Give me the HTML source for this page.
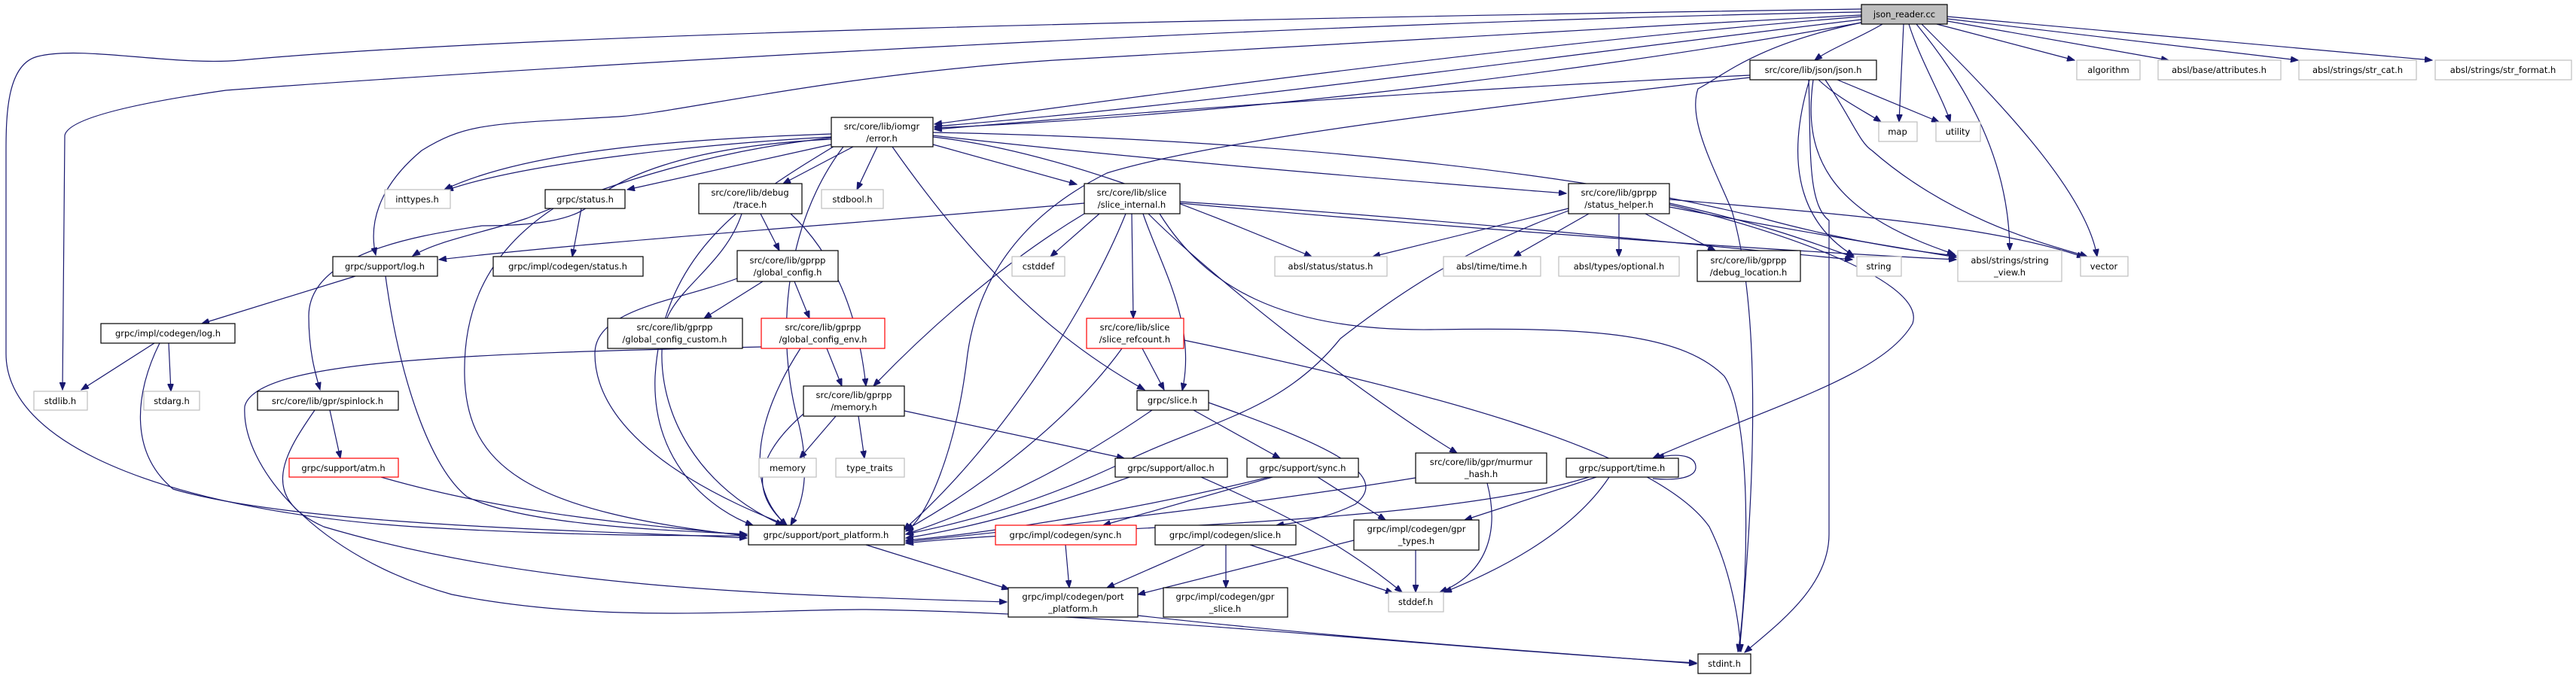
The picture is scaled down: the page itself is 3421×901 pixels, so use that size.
<!DOCTYPE html>
<html><head><meta charset="utf-8"><style>
html,body{margin:0;padding:0;background:#fff;}
svg{display:block;}
text{font-family:"DejaVu Sans","Liberation Sans",sans-serif;font-size:11.5px;fill:#000;text-anchor:middle;}
.e{fill:none;stroke:#191970;stroke-width:1.2;marker-end:url(#a);}
.n{fill:#fff;stroke:#000;stroke-width:1.2;}
.g{fill:#fff;stroke:#bfbfbf;stroke-width:1.2;}
.r{fill:#fff;stroke:#ff0000;stroke-width:1.2;}
</style></head><body>
<svg width="3421" height="901" viewBox="0 0 3421 901" xmlns="http://www.w3.org/2000/svg">
<defs><marker id="a" markerUnits="userSpaceOnUse" markerWidth="11" markerHeight="8" refX="10" refY="4" orient="auto"><path d="M0,0 L10,4 L0,8 z" fill="#191970" stroke="#191970"/></marker></defs>

<!-- edges from json_reader.cc -->
<path class="e" d="M2500,32 C2470,50 2430,65 2410,80"/>
<path class="e" d="M2528,32 L2522,162"/>
<path class="e" d="M2535,32 C2550,80 2580,130 2590,162"/>
<path class="e" d="M2545,32 C2600,100 2668,200 2669,333"/>
<path class="e" d="M2552,32 C2640,120 2770,250 2785,341"/>
<path class="e" d="M2572,32 L2755,80"/>
<path class="e" d="M2586,28 L2880,80"/>
<path class="e" d="M2586,25 L3052,80"/>
<path class="e" d="M2586,22 L3230,80"/>
<path class="e" d="M2472,22 C2000,60 1500,130 1241,165"/>
<path class="e" d="M2472,26 C2100,70 1600,140 1241,168"/>
<path class="e" d="M2472,30 C2200,80 1700,150 1241,170"/>
<path class="e" d="M2472,12 C1600,25 700,45 320,80 C230,88 110,60 50,75 C10,85 8,150 8,200 L8,470 C8,600 250,680 550,700 C750,712 900,712 992,712"/>
<path class="e" d="M2472,16 C1700,30 700,90 300,120 C160,140 90,160 86,180 L83,518"/>
<path class="e" d="M2472,20 C2100,40 1700,60 1400,80 C1100,100 900,150 821,155 C650,165 620,163 560,200 C500,250 490,300 499,339"/>
<path class="e" d="M2472,30 C2330,60 2290,100 2255,118 C2240,160 2280,230 2300,280 C2335,400 2335,600 2310,866"/>

<!-- json.h -->
<path class="e" d="M2415,106 C2440,130 2480,150 2498,162"/>
<path class="e" d="M2440,106 L2575,162"/>
<path class="e" d="M2403,106 C2375,200 2380,290 2462,340"/>
<path class="e" d="M2408,106 C2395,200 2420,280 2596,338"/>
<path class="e" d="M2424,106 C2460,160 2470,190 2486,200 C2600,300 2740,330 2772,341"/>
<path class="e" d="M2402,106 C2405,200 2400,270 2429,293 L2429,710 C2429,780 2360,830 2317,867"/>
<path class="e" d="M2324,100 C1900,120 1500,150 1241,172"/>
<path class="e" d="M2324,103 C1900,150 1600,190 1470,230 C1330,300 1295,400 1285,470 C1270,600 1230,690 1203,706"/>

<!-- error.h -->
<path class="e" d="M1104,178 C900,185 700,200 590,252"/>
<path class="e" d="M1104,182 C950,190 700,215 592,253"/>
<path class="e" d="M1104,183 C950,200 820,240 700,290 C640,310 580,320 548,340"/>
<path class="e" d="M1104,185 C900,195 820,240 790,265 C770,295 700,300 640,300 C580,310 410,330 410,420 C410,470 420,500 425,518"/>
<path class="e" d="M1104,192 L833,252"/>
<path class="e" d="M1133,195 L1040,244"/>
<path class="e" d="M1165,195 L1138,252"/>
<path class="e" d="M1239,192 L1430,245"/>
<path class="e" d="M1239,180 C1500,210 1800,235 2080,257"/>
<path class="e" d="M1239,182 C1400,200 1570,270 1742,341"/>
<path class="e" d="M1239,176 C1700,185 2100,230 2340,290 C2450,320 2550,335 2598,340"/>
<path class="e" d="M1185,195 C1280,330 1380,440 1520,518"/>
<path class="e" d="M1110,193 C1000,260 880,330 870,500 C865,620 950,680 1000,698"/>
<path class="e" d="M1120,195 C1040,300 1030,450 1060,560 C1080,640 1060,680 1050,698"/>

<!-- slice_internal.h -->
<path class="e" d="M1440,270 C1100,300 800,320 583,345"/>
<path class="e" d="M1460,284 L1395,341"/>
<path class="e" d="M1567,268 C1900,290 2200,320 2460,345"/>
<path class="e" d="M1567,270 C1900,300 2300,330 2598,345"/>
<path class="e" d="M1503,284 L1505,423"/>
<path class="e" d="M1518,284 C1540,350 1590,430 1570,519"/>
<path class="e" d="M1440,284 C1330,350 1230,440 1160,513"/>
<path class="e" d="M1495,284 C1440,420 1320,600 1200,704"/>
<path class="e" d="M1525,284 C1600,360 1800,520 1935,602"/>
<path class="e" d="M1540,284 C1600,380 1700,440 1900,438 C2100,435 2230,440 2290,500 C2330,560 2320,800 2308,866"/>

<!-- status_helper.h -->
<path class="e" d="M2083,277 L1823,341"/>
<path class="e" d="M2110,284 L2010,341"/>
<path class="e" d="M2150,284 L2150,341"/>
<path class="e" d="M2185,284 L2278,333"/>
<path class="e" d="M2217,270 C2350,300 2400,320 2462,342"/>
<path class="e" d="M2217,275 C2400,310 2500,325 2598,342"/>
<path class="e" d="M2217,265 C2450,285 2650,300 2768,342"/>
<path class="e" d="M2083,280 C1950,330 1870,380 1780,450 C1700,550 1600,560 1480,620 C1350,680 1250,700 1203,710"/>
<path class="e" d="M2217,272 C2340,300 2560,370 2540,430 C2500,500 2350,540 2195,609"/>

<!-- trace.h / global_config -->
<path class="e" d="M1010,284 L1035,333"/>
<path class="e" d="M985,284 C960,360 880,390 880,450 C870,550 930,650 1040,698"/>
<path class="e" d="M1050,284 C1110,340 1140,420 1150,513"/>
<path class="e" d="M1013,374 L935,423"/>
<path class="e" d="M1055,374 L1075,423"/>
<path class="e" d="M979,370 C900,400 790,410 790,470 C790,600 1000,680 1045,698"/>
<path class="e" d="M1098,463 L1118,513"/>
<path class="e" d="M1063,463 C1000,560 990,650 1045,698"/>
<path class="e" d="M1011,461 C600,470 340,480 325,540 C320,620 420,740 600,790 C800,830 1000,810 1150,810 C1500,815 1900,860 2253,881"/>

<!-- memory.h -->
<path class="e" d="M1110,553 L1062,609"/>
<path class="e" d="M1140,553 L1148,609"/>
<path class="e" d="M1201,546 L1493,609"/>
<path class="e" d="M1067,550 C1010,600 990,650 1045,698"/>

<!-- log.h, status.h, codegen/log.h -->
<path class="e" d="M472,367 L268,430"/>
<path class="e" d="M512,367 C530,500 570,620 620,660 C700,700 900,705 992,710"/>
<path class="e" d="M205,456 L108,518"/>
<path class="e" d="M224,456 L227,520"/>
<path class="e" d="M212,456 C180,520 170,600 230,650 C400,700 800,705 992,715"/>
<path class="e" d="M772,277 L760,341"/>
<path class="e" d="M735,277 C640,340 615,420 617,500 C620,620 700,680 992,712"/>

<!-- spinlock / atm -->
<path class="e" d="M438,545 L452,609"/>
<path class="e" d="M418,545 C380,600 340,660 430,700 C700,780 1000,790 1337,800"/>
<path class="e" d="M506,634 C700,690 900,700 992,712"/>
<path class="e" d="M1150,724 L1340,783"/>

<!-- slice_refcount / slice.h -->
<path class="e" d="M1517,463 L1546,518"/>
<path class="e" d="M1490,463 C1420,560 1300,650 1203,704"/>
<path class="e" d="M1572,452 C1900,520 2200,600 2270,700 C2300,760 2310,830 2312,866"/>
<path class="e" d="M1530,545 C1450,600 1350,660 1203,710"/>
<path class="e" d="M1585,545 L1700,609"/>
<path class="e" d="M1605,535 C1760,590 1850,630 1800,670 C1760,690 1720,695 1695,698"/>

<!-- alloc, sync, murmur, time -->
<path class="e" d="M1500,634 C1400,670 1300,700 1203,715"/>
<path class="e" d="M1595,634 C1700,680 1780,720 1862,787"/>
<path class="e" d="M1685,634 C1500,680 1300,710 1203,718"/>
<path class="e" d="M1690,634 L1465,698"/>
<path class="e" d="M1750,634 L1840,691"/>
<path class="e" d="M1880,635 C1600,680 1300,710 1203,720"/>
<path class="e" d="M1975,642 C1990,700 1980,760 1912,787"/>
<path class="e" d="M2110,634 C1900,700 1400,700 1203,722"/>
<path class="e" d="M2120,634 L1945,691"/>
<path class="e" d="M2137,634 C2080,720 1960,770 1918,787"/>
<path class="e" d="M2195,636 C2240,640 2252,630 2252,621 C2252,610 2240,600 2200,608"/>

<!-- codegen -->
<path class="e" d="M1415,724 L1420,781"/>
<path class="e" d="M1600,724 L1470,781"/>
<path class="e" d="M1628,724 L1628,781"/>
<path class="e" d="M1660,724 L1850,788"/>
<path class="e" d="M1798,718 L1511,790"/>
<path class="e" d="M1880,731 L1880,787"/>
<path class="e" d="M1511,818 C1800,850 2100,870 2253,882"/>

<!-- nodes -->
<rect x="2472" y="6" width="114" height="26" fill="#bfbfbf" stroke="#000" stroke-width="1.2"/><text x="2529" y="23">json_reader.cc</text>
<rect class="n" x="2324" y="80" width="168" height="26"/><text x="2408" y="97">src/core/lib/json/json.h</text>
<rect class="g" x="2758" y="80" width="84" height="26"/><text x="2800" y="97">algorithm</text>
<rect class="g" x="2866" y="80" width="163" height="26"/><text x="2947" y="97">absl/base/attributes.h</text>
<rect class="g" x="3053" y="80" width="156" height="26"/><text x="3131" y="97">absl/strings/str_cat.h</text>
<rect class="g" x="3234" y="80" width="181" height="26"/><text x="3324" y="97">absl/strings/str_format.h</text>
<rect class="g" x="2495" y="162" width="51" height="26"/><text x="2520" y="179">map</text>
<rect class="g" x="2571" y="162" width="59" height="26"/><text x="2600" y="179">utility</text>
<rect class="g" x="2466" y="341" width="59" height="26"/><text x="2495" y="358">string</text>
<rect class="g" x="2600" y="333" width="138" height="41"/><text x="2669" y="350">absl/strings/string</text><text x="2669" y="366">_view.h</text>
<rect class="g" x="2763" y="341" width="63" height="26"/><text x="2794" y="358">vector</text>
<rect class="n" x="2254" y="333" width="137" height="41"/><text x="2322" y="350">src/core/lib/gprpp</text><text x="2322" y="366">/debug_location.h</text>

<rect class="n" x="1104" y="156" width="135" height="39"/><text x="1171" y="172">src/core/lib/iomgr</text><text x="1171" y="188">/error.h</text>
<rect class="n" x="1440" y="244" width="127" height="40"/><text x="1503" y="260">src/core/lib/slice</text><text x="1503" y="276">/slice_internal.h</text>
<rect class="n" x="2083" y="244" width="134" height="40"/><text x="2150" y="260">src/core/lib/gprpp</text><text x="2150" y="276">/status_helper.h</text>
<rect class="g" x="1344" y="341" width="70" height="26"/><text x="1379" y="358">cstddef</text>
<rect class="g" x="1693" y="341" width="149" height="26"/><text x="1767" y="358">absl/status/status.h</text>
<rect class="g" x="1917" y="341" width="129" height="26"/><text x="1981" y="358">absl/time/time.h</text>
<rect class="g" x="2070" y="341" width="160" height="26"/><text x="2150" y="358">absl/types/optional.h</text>
<rect class="r" x="1443" y="423" width="129" height="40"/><text x="1507" y="439">src/core/lib/slice</text><text x="1507" y="455">/slice_refcount.h</text>

<rect class="g" x="511" y="252" width="87" height="25"/><text x="554" y="269">inttypes.h</text>
<rect class="n" x="724" y="252" width="106" height="25"/><text x="777" y="269">grpc/status.h</text>
<rect class="n" x="928" y="244" width="137" height="40"/><text x="996" y="260">src/core/lib/debug</text><text x="996" y="276">/trace.h</text>
<rect class="g" x="1091" y="252" width="82" height="25"/><text x="1132" y="269">stdbool.h</text>
<rect class="n" x="442" y="341" width="139" height="26"/><text x="511" y="358">grpc/support/log.h</text>
<rect class="n" x="655" y="341" width="199" height="26"/><text x="754" y="358">grpc/impl/codegen/status.h</text>
<rect class="n" x="979" y="333" width="134" height="41"/><text x="1046" y="350">src/core/lib/gprpp</text><text x="1046" y="366">/global_config.h</text>
<rect class="n" x="134" y="430" width="178" height="26"/><text x="223" y="447">grpc/impl/codegen/log.h</text>
<rect class="n" x="807" y="423" width="179" height="40"/><text x="896" y="439">src/core/lib/gprpp</text><text x="896" y="455">/global_config_custom.h</text>
<rect class="r" x="1011" y="423" width="164" height="40"/><text x="1093" y="439">src/core/lib/gprpp</text><text x="1093" y="455">/global_config_env.h</text>

<rect class="g" x="45" y="520" width="71" height="25"/><text x="80" y="537">stdlib.h</text>
<rect class="g" x="191" y="520" width="74" height="25"/><text x="228" y="537">stdarg.h</text>
<rect class="n" x="342" y="520" width="187" height="25"/><text x="435" y="537">src/core/lib/gpr/spinlock.h</text>
<rect class="r" x="384" y="609" width="145" height="25"/><text x="456" y="626">grpc/support/atm.h</text>
<rect class="n" x="1067" y="513" width="134" height="40"/><text x="1134" y="529">src/core/lib/gprpp</text><text x="1134" y="545">/memory.h</text>
<rect class="g" x="1008" y="609" width="76" height="25"/><text x="1046" y="626">memory</text>
<rect class="g" x="1110" y="609" width="91" height="25"/><text x="1155" y="626">type_traits</text>
<rect class="n" x="994" y="698" width="207" height="26"/><text x="1097" y="715">grpc/support/port_platform.h</text>

<rect class="n" x="1510" y="519" width="95" height="26"/><text x="1557" y="536">grpc/slice.h</text>
<rect class="n" x="1481" y="609" width="149" height="25"/><text x="1555" y="626">grpc/support/alloc.h</text>
<rect class="n" x="1656" y="609" width="148" height="25"/><text x="1730" y="626">grpc/support/sync.h</text>
<rect class="n" x="1880" y="602" width="174" height="40"/><text x="1967" y="618">src/core/lib/gpr/murmur</text><text x="1967" y="634">_hash.h</text>
<rect class="n" x="2080" y="609" width="149" height="25"/><text x="2154" y="626">grpc/support/time.h</text>
<rect class="r" x="1322" y="698" width="187" height="26"/><text x="1415" y="715">grpc/impl/codegen/sync.h</text>
<rect class="n" x="1534" y="698" width="187" height="26"/><text x="1627" y="715">grpc/impl/codegen/slice.h</text>
<rect class="n" x="1798" y="691" width="166" height="40"/><text x="1881" y="707">grpc/impl/codegen/gpr</text><text x="1881" y="723">_types.h</text>
<rect class="n" x="1339" y="781" width="172" height="39"/><text x="1425" y="797">grpc/impl/codegen/port</text><text x="1425" y="813">_platform.h</text>
<rect class="n" x="1545" y="781" width="165" height="39"/><text x="1627" y="797">grpc/impl/codegen/gpr</text><text x="1627" y="813">_slice.h</text>
<rect class="g" x="1844" y="787" width="73" height="26"/><text x="1880" y="804">stddef.h</text>
<rect class="n" x="2255" y="869" width="70" height="26"/><text x="2290" y="886">stdint.h</text>
</svg>
</body></html>
